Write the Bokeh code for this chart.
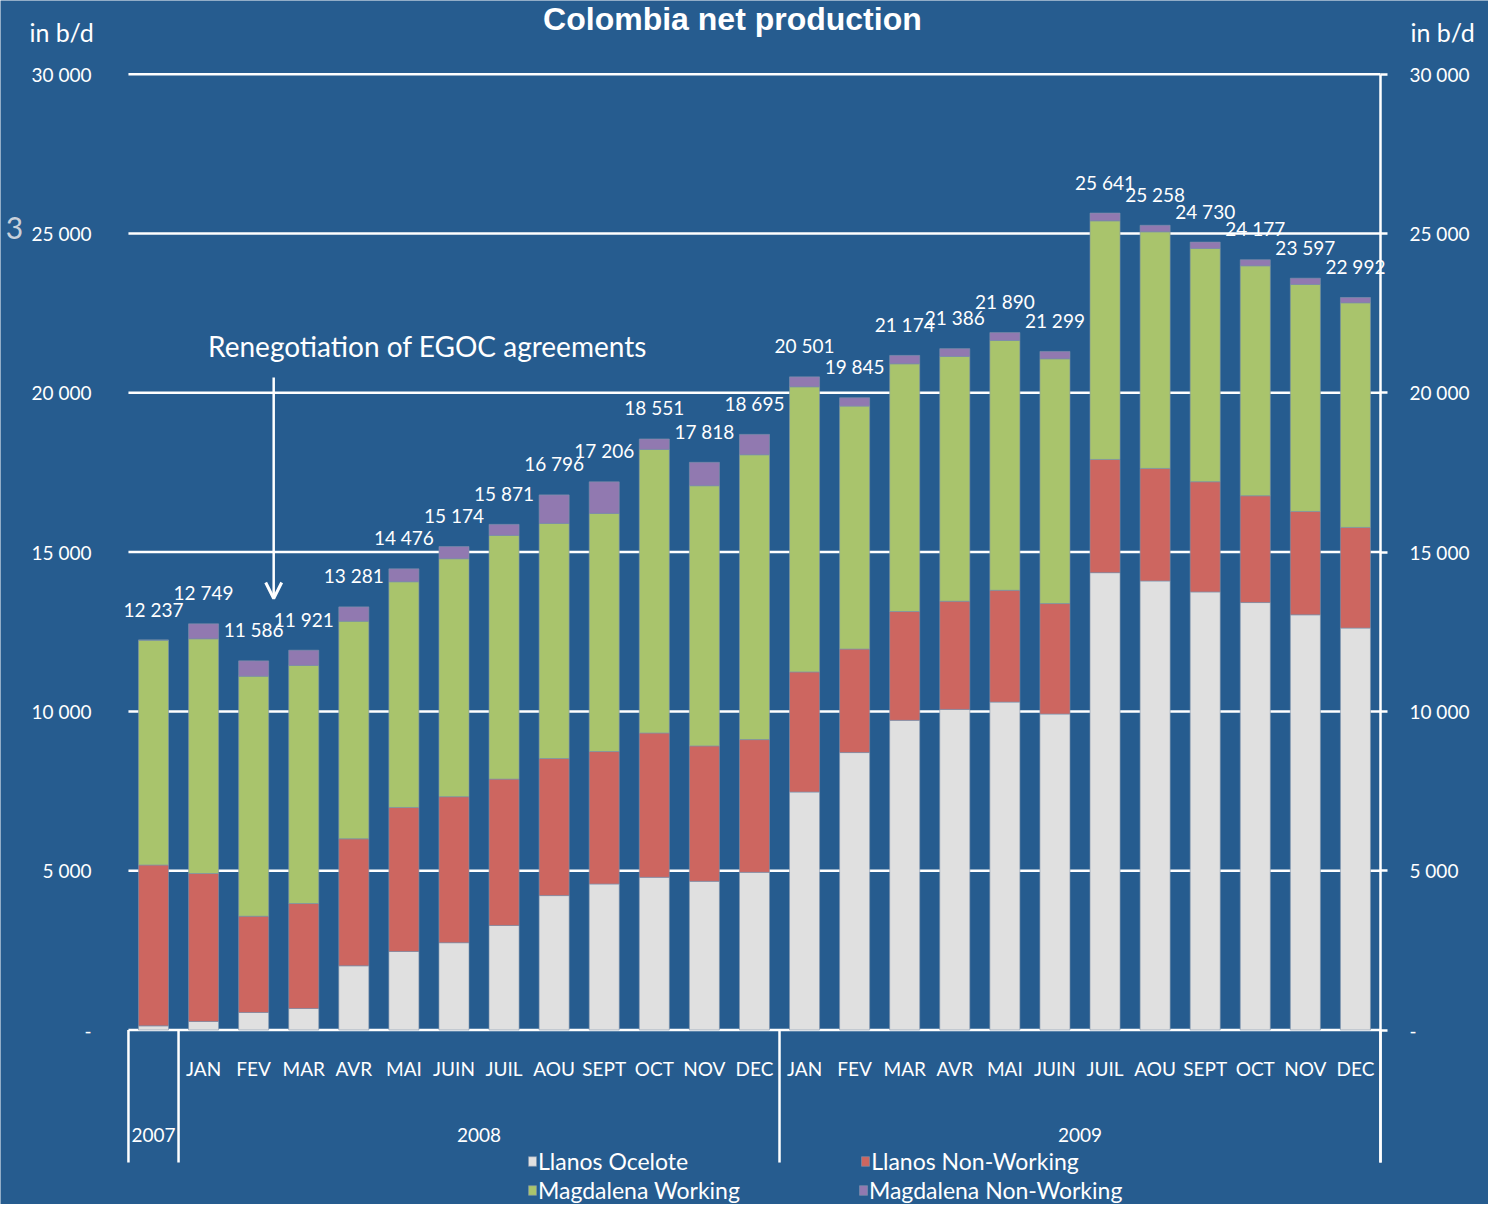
from bokeh.plotting import figure
from bokeh.models import (Range1d, FixedTicker, LinearAxis, ColumnDataSource,
                          Label, LabelSet, Legend, LegendItem, Arrow, OpenHead)
from bokeh.core.properties import value
from bokeh.embed import file_html
from bokeh.resources import INLINE

# ---------------- data ----------------
years = ["2007", "2008", "2009"]
year_sizes = [1, 12, 12]
months = ["",
          "JAN", "FEV", "MAR", "AVR", "MAI", "JUIN", "JUIL", "AOU", "SEPT", "OCT", "NOV", "DEC",
          "JAN", "FEV", "MAR", "AVR", "MAI", "JUIN", "JUIL", "AOU", "SEPT", "OCT", "NOV", "DEC"]

llanos_ocelote = [130, 267, 549, 675, 2015, 2464, 2740, 3281, 4219, 4583, 4792, 4667, 4948,
                  7469, 8708, 9719, 10063, 10292, 9917, 14354, 14094, 13750, 13417, 13031, 12615]
llanos_non_working = [5050, 4645, 3023, 3295, 3986, 4520, 4583, 4594, 4302, 4157, 4531, 4250, 4167,
                      3771, 3250, 3416, 3395, 3510, 3468, 3554, 3532, 3458, 3351, 3245, 3159]
magdalena_working = [7057, 7366, 7533, 7471, 6830, 7084, 7468, 7648, 7379, 7473, 8899, 8165, 8939,
                     8948, 7624, 7775, 7682, 7840, 7682, 7489, 7426, 7321, 7217, 7124, 7050]
magdalena_non_working = [0, 471, 481, 480, 450, 408, 383, 348, 896, 993, 329, 736, 641,
                         313, 263, 264, 246, 248, 232, 244, 206, 201, 192, 197, 168]
totals = [12237, 12749, 11586, 11921, 13281, 14476, 15174, 15871, 16796, 17206, 18551, 17818, 18695,
          20501, 19845, 21174, 21386, 21890, 21299, 25641, 25258, 24730, 24177, 23597, 22992]

y_ticks = [0, 5000, 10000, 15000, 20000, 25000, 30000]
y_tick_labels = ["-", "5 000", "10 000", "15 000", "20 000", "25 000", "30 000"]

series_names = ["Llanos Ocelote", "Llanos Non-Working", "Magdalena Working", "Magdalena Non-Working"]
series_colors = ["#E0E0E0", "#CD6660", "#A9C46C", "#9179B0"]

# ---------------- styles ----------------
BG = "#265C8F"
WHITE = "white"
FONT = "Lato"

n = len(months)
x = list(range(n))
source = ColumnDataSource(dict(
    x=x,
    ocelote=llanos_ocelote,
    llanos_nw=llanos_non_working,
    magd_w=magdalena_working,
    magd_nw=magdalena_non_working,
    total=totals,
    total_text=[f"{v:,}".replace(",", " ") for v in totals],
    month=months,
))

x_lo, x_hi = -0.5, n - 0.5          # edges of the category area
table_bottom = -4160                # bottom of the category table (in y units)

p = figure(width=1488, height=1204, output_backend="svg", toolbar_location=None,
           x_range=Range1d(-3.055, 26.657), y_range=Range1d(-5477, 32313),
           x_axis_type=None, y_axis_type=None,
           min_border_left=0, min_border_right=0, min_border_top=0, min_border_bottom=0)
p.background_fill_color = BG
p.border_fill_color = BG
p.outline_line_color = None
p.xgrid.visible = False
p.ygrid.visible = False

# horizontal grid lines (one per y tick), spanning the category area only
p.segment(x0=[x_lo] * len(y_ticks), y0=y_ticks, x1=[x_hi] * len(y_ticks), y1=y_ticks,
          line_color=WHITE, line_width=2.5)

# axes
overrides = {t: l for t, l in zip(y_ticks, y_tick_labels)}
left_axis = LinearAxis(ticker=FixedTicker(ticks=y_ticks), major_label_overrides=overrides,
                       fixed_location=x_lo,
                       axis_line_color=None, major_tick_line_color=None, minor_tick_line_color=None,
                       major_tick_out=0, major_tick_in=0, major_label_standoff=37,
                       major_label_text_color=WHITE, major_label_text_font=FONT,
                       major_label_text_font_size="19px")
p.add_layout(left_axis, "left")

right_axis = LinearAxis(ticker=FixedTicker(ticks=y_ticks), major_label_overrides=overrides,
                        fixed_location=x_hi, bounds=(table_bottom, 30000),
                        axis_line_color=WHITE, axis_line_width=2.5,
                        major_tick_line_color=WHITE, major_tick_line_width=2.5,
                        minor_tick_line_color=None,
                        major_tick_out=7, major_tick_in=0, major_label_standoff=22,
                        major_label_text_color=WHITE, major_label_text_font=FONT,
                        major_label_text_font_size="19px")
p.add_layout(right_axis, "right")

# stacked bars
renderers = p.vbar_stack(["ocelote", "llanos_nw", "magd_w", "magd_nw"], x="x", width=0.6,
                         color=series_colors, line_color="#7F93AC", line_alpha=0.6, line_width=1,
                         source=source)

# total labels
labels = LabelSet(x="x", y="total", text="total_text", source=source, y_offset=31,
                  text_align="center", text_baseline="middle", text_color=WHITE,
                  text_font=value(FONT), text_font_size="19px")
p.add_layout(labels)

# category table below the bars
bounds_x = [x_lo]
acc = x_lo
for s in year_sizes:
    acc += s
    bounds_x.append(acc)
p.segment(x0=bounds_x, y0=[0] * len(bounds_x), x1=bounds_x, y1=[table_bottom] * len(bounds_x),
          line_color=WHITE, line_width=2.5)

p.text(x="x", y=-1208, text="month", source=source, text_align="center", text_baseline="middle",
       text_color=WHITE, text_font=value(FONT), text_font_size="19px")

year_centers = []
start = 0
for s in year_sizes:
    year_centers.append(start + (s - 1) / 2)
    start += s
p.text(x=year_centers, y=[-3280] * len(years), text=years, text_align="center",
       text_baseline="middle", text_color=WHITE, text_font=value(FONT), text_font_size="19px")

# annotations
p.add_layout(Label(x=11.56, y=31717, text="Colombia net production", text_align="center",
                   text_baseline="alphabetic", text_color=WHITE, text_font="Liberation Sans",
                   text_font_style="bold", text_font_size="32px"))
p.add_layout(Label(x=-2.476, y=31309, text="in b/d", text_align="left", text_baseline="middle",
                   text_color=WHITE, text_font=FONT, text_font_size="25px"))
p.add_layout(Label(x=25.10, y=31309, text="in b/d", text_align="left", text_baseline="middle",
                   text_color=WHITE, text_font=FONT, text_font_size="25px"))
p.add_layout(Label(x=-2.776, y=25188, text="3", text_align="center", text_baseline="middle",
                   text_color="#C9D1DB", text_font=FONT, text_font_size="30px"))
p.add_layout(Label(x=5.47, y=21484, text="Renegotiation of EGOC agreements", text_align="center",
                   text_baseline="middle", text_color=WHITE, text_font=FONT, text_font_size="28px"))
p.add_layout(Arrow(end=OpenHead(size=16, line_color=WHITE, line_width=3),
                   x_start=2.4, y_start=20480, x_end=2.4, y_end=13543,
                   line_color=WHITE, line_width=2.5))

# legends (two rows)
leg_style = dict(orientation="horizontal", background_fill_alpha=0, border_line_color=None,
                 label_text_color=WHITE, label_text_font=FONT, label_text_font_size="23px",
                 glyph_width=10, glyph_height=12, label_standoff=1, padding=0, margin=0,
                 label_height=24)
leg1 = Legend(items=[LegendItem(label=series_names[0], renderers=[renderers[0]]),
                     LegendItem(label=series_names[1], renderers=[renderers[1]])],
              location=(527, 29), spacing=172, **leg_style)
leg2 = Legend(items=[LegendItem(label=series_names[2], renderers=[renderers[2]]),
                     LegendItem(label=series_names[3], renderers=[renderers[3]])],
              location=(527, 0), spacing=118, **leg_style)
p.add_layout(leg1)
p.add_layout(leg2)

open("out.html", "w").write(file_html(p, INLINE))
